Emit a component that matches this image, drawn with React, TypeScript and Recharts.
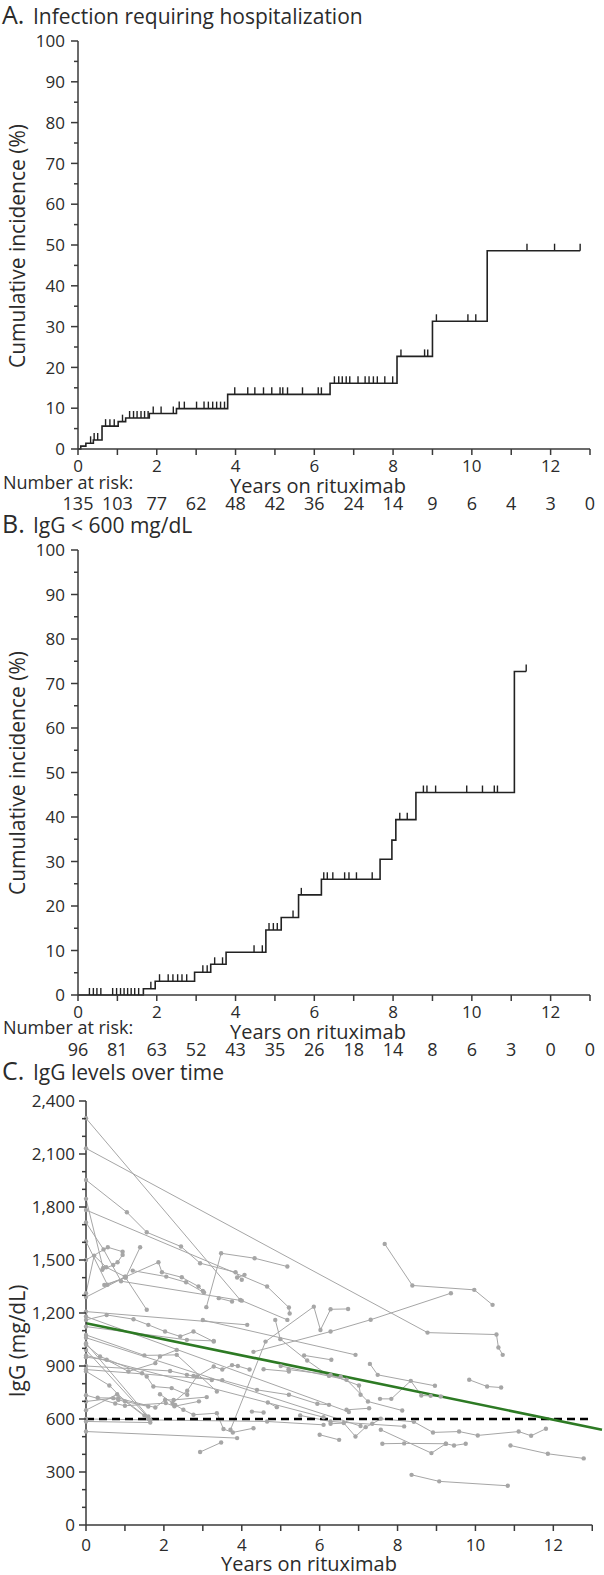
import { ComposedChart, Line, Scatter, XAxis, YAxis, ReferenceLine } from 'recharts';

const FONT = '"Open Sans", "DejaVu Sans", sans-serif';
const AXIS = '#3a3a3a';
const TEXT = '#2b2b2b';
const GRAY = '#a6a6a6';
const GREEN = '#2d7a24';

// shared x ticks (years on rituximab)
const years = [0, 1, 2, 3, 4, 5, 6, 7, 8, 9, 10, 11, 12, 13];
const kmTicks = [0, 5, 10, 15, 20, 25, 30, 35, 40, 45, 50, 55, 60, 65, 70, 75, 80, 85, 90, 95, 100];
const iggTicks = [
  0, 100, 200, 300, 400, 500, 600, 700, 800, 900, 1000, 1100, 1200, 1300, 1400, 1500, 1600, 1700, 1800,
  1900, 2000, 2100, 2200, 2300, 2400,
];

// A. infection requiring hospitalization
const riskA = [135, 103, 77, 62, 48, 42, 36, 24, 14, 9, 6, 4, 3, 0];
const stepTimesA = [0, 0.07, 0.2, 0.39, 0.61, 1.02, 1.21, 1.81, 2.5, 3.8, 6.4, 8.1, 9.0, 10.39, 12.75];
const stepValuesA = [0, 0.7, 1.4, 2.2, 5.6, 6.7, 7.6, 8.7, 9.9, 13.4, 16.1, 22.7, 31.3, 48.6, 48.6];
const censorA = [
  0.32, 0.41, 0.5, 0.7, 0.81, 0.92, 1.13, 1.31, 1.41, 1.5, 1.6, 1.69, 1.78, 1.91, 2.11, 2.42, 2.57, 2.7, 3.01,
  3.2, 3.31, 3.42, 3.52, 3.62, 3.72, 3.98, 4.31, 4.49, 4.71, 4.92, 5.13, 5.2, 5.32, 5.7, 6.1, 6.18, 6.51, 6.62,
  6.71, 6.81, 6.9, 7.11, 7.29, 7.39, 7.5, 7.6, 7.79, 7.99, 8.2, 8.8, 8.88, 9.1, 9.9, 10.1, 11.4, 12.1, 12.75,
];

// B. IgG < 600 mg/dL
const riskB = [96, 81, 63, 52, 43, 35, 26, 18, 14, 8, 6, 3, 0, 0];
const stepTimesB = [0, 1.66, 1.96, 2.96, 3.37, 3.76, 4.77, 5.16, 5.6, 6.18, 7.67, 7.97, 8.07, 8.58, 11.08, 11.38];
const stepValuesB = [0, 1.4, 3.1, 5.1, 6.9, 9.6, 14.6, 17.4, 22.5, 26, 30.5, 34.8, 39.4, 45.5, 72.7, 72.7];
const censorB = [
  0.29, 0.39, 0.48, 0.58, 0.88, 0.98, 1.08, 1.17, 1.26, 1.35, 1.44, 1.54, 1.85, 2.07, 2.29, 2.41, 2.53, 2.64,
  2.76, 3.17, 3.28, 3.47, 3.67, 4.47, 4.68, 4.85, 4.96, 5.06, 5.46, 5.67, 6.24, 6.33, 6.47, 6.77, 6.88, 7.07,
  7.47, 8.17, 8.36, 8.77, 8.86, 9.08, 9.87, 10.27, 10.57, 10.65, 11.38,
];

// C. individual IgG measurements, [years, mg/dL] per patient
const patients: [number, number][][] = [
  [[0, 2302], [3.96, 1274], [5.17, 1161]],
  [[0, 2132], [8.77, 1089], [10.54, 1078], [10.59, 1005], [10.7, 963]],
  [[0, 1953], [1.05, 1770], [1.56, 1657], [2.44, 1576], [2.93, 1482], [3.84, 1431], [4.0, 1388]],
  [[0, 1783], [4.65, 1350], [5.21, 1231], [5.23, 1197]],
  [[3.09, 1233], [3.47, 1538], [4.33, 1510], [5.17, 1463]],
  [[3.41, 1284], [3.75, 1265]],
  [[3.88, 1401], [4.07, 1416]],
  [[7.67, 1591], [8.38, 1356], [9.97, 1331], [10.44, 1246]],
  [[4.3, 980], [6.28, 1095], [7.31, 1162], [9.37, 1312]],
  [[3.71, 539], [4.61, 1038], [5.85, 1236], [6.02, 1104], [6.28, 1221], [6.73, 1223]],
  [[0, 1312], [0.21, 1525], [0.52, 1459], [1.0, 1406], [1.56, 1218]],
  [[0, 1500], [0.56, 1572], [0.94, 1547]],
  [[0.42, 1445], [0.7, 1472], [0.81, 1487], [0.94, 1529]],
  [[0.47, 1359], [1.02, 1400], [1.39, 1572]],
  [[0, 1290], [1.02, 1405], [1.86, 1487], [1.95, 1431], [2.46, 1402], [2.89, 1350], [3.0, 1325]],
  [[1.2, 1440], [2.06, 1406], [2.57, 1374], [3.03, 1316]],
  [[0, 1712], [0.45, 1560], [0.9, 1380], [4.0, 1270]],
  [[0, 1846], [0.44, 1455]],
  [[0, 1605], [0.55, 1360], [1.0, 1402]],
  [[0, 1208], [4.14, 1133]],
  [[0, 1161], [0.53, 1189], [1.22, 1165], [1.6, 1133], [2.03, 1095], [2.42, 1067], [2.76, 1095], [3.28, 1038]],
  [[0, 1123], [2.59, 1048], [3.28, 1042]],
  [[0, 1076], [1.5, 960], [2.33, 963], [3.36, 756]],
  [[0, 1020], [0.36, 954], [1.44, 859], [1.56, 840], [1.73, 784], [2.2, 775], [2.6, 737]],
  [[0, 991], [1.65, 595]],
  [[0, 1029], [1.6, 614]],
  [[2.22, 690], [2.6, 760], [2.85, 841], [3.28, 897], [3.5, 880], [3.75, 905], [3.9, 900], [4.2, 880]],
  [[0, 880], [3.5, 820], [4.39, 765], [5.21, 737], [5.94, 686], [6.24, 680]],
  [[0, 735], [0.75, 688], [1.0, 675], [2.05, 690], [2.27, 672], [2.9, 700]],
  [[0, 699], [0.7, 718], [0.83, 708], [1.6, 671]],
  [[0.3, 720], [0.83, 718], [1.78, 665], [2.03, 708], [2.25, 708], [3.1, 724]],
  [[1.9, 740], [2.29, 680], [2.5, 652], [2.76, 624], [3.36, 633], [3.53, 543], [3.77, 524], [4.3, 548]],
  [[4.26, 642], [4.56, 637]],
  [[4.67, 693], [4.9, 667]],
  [[0, 586], [1.65, 580]],
  [[0, 600], [4.65, 586], [6.1, 567]],
  [[6.0, 511], [6.5, 482]],
  [[2.93, 413], [3.47, 467]],
  [[0, 529], [3.88, 492]],
  [[4.86, 1161], [4.99, 1052], [5.68, 931], [6.24, 844], [6.54, 840]],
  [[4.56, 882], [5.21, 869]],
  [[3.0, 1160], [6.92, 963]],
  [[5.2, 880], [6.28, 850], [7.01, 790], [7.05, 737]],
  [[5.0, 900], [6.69, 822], [7.24, 699], [8.12, 648]],
  [[6.69, 652], [7.27, 661]],
  [[5.6, 960], [6.3, 935]],
  [[7.29, 912], [7.49, 850], [8.96, 788]],
  [[7.55, 714], [7.84, 714], [8.34, 816], [8.61, 733], [8.85, 731], [9.11, 727]],
  [[9.84, 822], [10.3, 784], [10.66, 778]],
  [[5.5, 620], [6.28, 586], [8.17, 558]],
  [[6.28, 573], [6.62, 577], [6.92, 501], [7.18, 554], [7.35, 573], [7.57, 601], [8.42, 584], [8.91, 524], [9.58, 529], [10.06, 507], [11.11, 529], [11.43, 505], [11.81, 545]],
  [[7.61, 460], [8.17, 462], [9.24, 460], [9.45, 450], [9.75, 460]],
  [[7.57, 539], [8.87, 407], [9.24, 460]],
  [[10.9, 450], [11.86, 403], [12.78, 377]],
  [[8.36, 284], [9.07, 247], [10.83, 222]],
  [[0, 650], [0.8, 740], [1.5, 620], [1.65, 595]],
  [[0, 870], [0.6, 790], [1.0, 700], [1.6, 600]],
  [[0, 950], [0.53, 935], [1.09, 869], [1.78, 916], [1.9, 954], [2.33, 991]],
  [[0, 900], [2.16, 872], [2.59, 850], [2.76, 844], [3.23, 821]],
  [[0, 1180], [6.75, 640]],
  [[0, 1060], [7.05, 560]],
  [[0, 960], [6.1, 610]],
];
const trendT = [0, 13.25];
const trendV = [1142, 539];
const thresholdT = [0, 13];
const thresholdV = [600, 600];

const levelAt = (times: number[], values: number[], t: number) => {
  let v = values[0];
  times.forEach((s, i) => {
    if (s <= t) v = values[i];
  });
  return v;
};

const CensorTick = (props: any) => {
  const { cx, cy } = props;
  return <line x1={cx} x2={cx} y1={cy} y2={cy - 7} stroke="#222" strokeWidth={1.4} />;
};

const KmYTick = (props: any) => {
  const { x, y, payload } = props;
  const major = payload.value % 10 === 0;
  return (
    <g>
      <line x1={x - (major ? 7 : 4)} x2={x} y1={y} y2={y} stroke={AXIS} strokeWidth={1.5} />
      {major && (
        <text x={x - 13} y={y} dy="0.36em" textAnchor="end" fontSize={17} fontFamily={FONT} fill={TEXT}>
          {payload.value}
        </text>
      )}
    </g>
  );
};

const makeKmXTick = (risk: number[]) => (props: any) => {
  const { x, y, payload } = props;
  const val = payload.value;
  return (
    <g>
      <line x1={x} x2={x} y1={y} y2={y + 6} stroke={AXIS} strokeWidth={1.5} />
      {val % 2 === 0 && (
        <text x={x} y={y + 23} textAnchor="middle" fontSize={17} fontFamily={FONT} fill={TEXT}>
          {val}
        </text>
      )}
      <text x={x} y={y + 61} textAnchor="middle" fontSize={18} fontFamily={FONT} fill={TEXT}>
        {risk[val]}
      </text>
    </g>
  );
};

const IggYTick = (props: any) => {
  const { x, y, payload } = props;
  const major = payload.value % 300 === 0;
  return (
    <g>
      <line x1={x - (major ? 7 : 4)} x2={x} y1={y} y2={y} stroke={AXIS} strokeWidth={1.5} />
      {major && (
        <text x={x - 11} y={y} dy="0.36em" textAnchor="end" fontSize={17} fontFamily={FONT} fill={TEXT}>
          {payload.value.toLocaleString('en-US')}
        </text>
      )}
    </g>
  );
};

const IggXTick = (props: any) => {
  const { x, y, payload } = props;
  const val = payload.value;
  return (
    <g>
      <line x1={x} x2={x} y1={y} y2={y + 6} stroke={AXIS} strokeWidth={1.5} />
      {val % 2 === 0 && (
        <text x={x} y={y + 26} textAnchor="middle" fontSize={17} fontFamily={FONT} fill={TEXT}>
          {val}
        </text>
      )}
    </g>
  );
};

interface KmProps {
  times: number[];
  values: number[];
  censor: number[];
  risk: number[];
  top: number;
  height: number;
  marginTop: number;
  marginBottom: number;
}

const KmChart = ({ times, values, censor, risk, top, height, marginTop, marginBottom }: KmProps) => {
  const curve = times.map((t, i) => ({ t, v: values[i] }));
  const marks = censor.map((t) => ({ t, v: levelAt(times, values, t) }));
  return (
    <div style={{ position: 'absolute', left: 0, top, width: 604, height }}>
      <ComposedChart width={604} height={height} margin={{ top: marginTop, right: 14, bottom: marginBottom, left: 0 }}>
        <XAxis
          type="number"
          dataKey="t"
          domain={[0, 13]}
          ticks={years}
          interval={0}
          tickSize={0}
          tickMargin={0}
          tickLine={false}
          tick={makeKmXTick(risk)}
          axisLine={{ stroke: AXIS, strokeWidth: 1.5 }}
          height={30}
        />
        <YAxis
          type="number"
          domain={[0, 100]}
          ticks={kmTicks}
          interval={0}
          tickSize={0}
          tickMargin={0}
          tickLine={false}
          tick={KmYTick}
          axisLine={{ stroke: AXIS, strokeWidth: 1.5 }}
          width={78}
        />
        <Line data={curve} dataKey="v" type="stepAfter" stroke="#222" strokeWidth={1.6} dot={false} isAnimationActive={false} />
        <Scatter data={marks} dataKey="v" shape={CensorTick} isAnimationActive={false} />
      </ComposedChart>
    </div>
  );
};

const IggChart = () => {
  const trend = trendT.map((t, i) => ({ t, v: trendV[i] }));
  const threshold = thresholdT.map((t, i) => ({ t, v: thresholdV[i] }));
  return (
    <div style={{ position: 'absolute', left: 0, top: 1060, width: 604, height: 515 }}>
      <ComposedChart width={604} height={515} margin={{ top: 41, right: 2, bottom: 20, left: 0 }}>
        <XAxis
          type="number"
          dataKey="t"
          domain={[0, 13.25]}
          ticks={years}
          interval={0}
          tickSize={0}
          tickMargin={0}
          tickLine={false}
          tick={IggXTick}
          axisLine={false}
          height={30}
        />
        <YAxis
          type="number"
          domain={[0, 2400]}
          ticks={iggTicks}
          interval={0}
          tickSize={0}
          tickMargin={0}
          tickLine={false}
          tick={IggYTick}
          axisLine={{ stroke: AXIS, strokeWidth: 1.5 }}
          width={86}
        />
        <ReferenceLine segment={[{ x: 0, y: 0 }, { x: 13, y: 0 }]} stroke={AXIS} strokeWidth={1.5} />
        {patients.map((p, i) => (
          <Line
            key={i}
            data={p.map(([t, v]) => ({ t, v }))}
            dataKey="v"
            stroke={GRAY}
            strokeWidth={1}
            dot={{ r: 2.2, fill: GRAY, stroke: GRAY, strokeWidth: 0 }}
            isAnimationActive={false}
          />
        ))}
        <Line data={threshold} dataKey="v" stroke="#000" strokeWidth={2.5} strokeDasharray="8 5" dot={false} isAnimationActive={false} />
        <Line data={trend} dataKey="v" stroke={GREEN} strokeWidth={2.6} dot={false} isAnimationActive={false} />
      </ComposedChart>
    </div>
  );
};

const Labels = () => (
  <svg
    width={604}
    height={1575}
    style={{ position: 'absolute', left: 0, top: 0, pointerEvents: 'none' }}
    fontFamily={FONT}
    fill={TEXT}
  >
    <text x={2} y={24}>
      <tspan fontSize={25}>A.</tspan>
      <tspan x={33} fontSize={21}>Infection requiring hospitalization</tspan>
    </text>
    <text transform="translate(17,246) rotate(-90)" textAnchor="middle" dominantBaseline="central" fontSize={21}>
      Cumulative incidence (%)
    </text>
    <text x={3} y={489} fontSize={18}>Number at risk:</text>
    <text x={318} y={493} textAnchor="middle" fontSize={20}>Years on rituximab</text>

    <text x={2} y={533}>
      <tspan fontSize={25}>B.</tspan>
      <tspan x={33} fontSize={21}>IgG &lt; 600 mg/dL</tspan>
    </text>
    <text transform="translate(17,773) rotate(-90)" textAnchor="middle" dominantBaseline="central" fontSize={21}>
      Cumulative incidence (%)
    </text>
    <text x={3} y={1034} fontSize={18}>Number at risk:</text>
    <text x={318} y={1039} textAnchor="middle" fontSize={20}>Years on rituximab</text>

    <text x={2} y={1080}>
      <tspan fontSize={25}>C.</tspan>
      <tspan x={33} fontSize={21}>IgG levels over time</tspan>
    </text>
    <text transform="translate(17,1341) rotate(-90)" textAnchor="middle" dominantBaseline="central" fontSize={21}>
      IgG (mg/dL)
    </text>
    <text x={309} y={1571} textAnchor="middle" fontSize={20}>Years on rituximab</text>
  </svg>
);

const App = () => (
  <div style={{ position: 'absolute', left: 0, top: 0, width: 604, height: 1575, background: '#fff', fontFamily: FONT }}>
    <KmChart
      times={stepTimesA}
      values={stepValuesA}
      censor={censorA}
      risk={riskA}
      top={0}
      height={530}
      marginTop={41}
      marginBottom={51}
    />
    <KmChart
      times={stepTimesB}
      values={stepValuesB}
      censor={censorB}
      risk={riskB}
      top={530}
      height={530}
      marginTop={20}
      marginBottom={35}
    />
    <IggChart />
    <Labels />
  </div>
);

export default App;
